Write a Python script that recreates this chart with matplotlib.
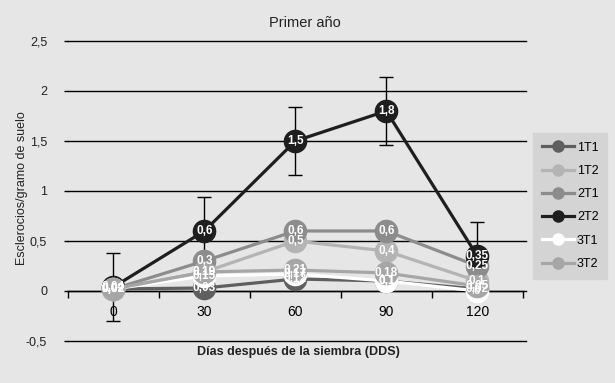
import numpy as np
import matplotlib.pyplot as plt

plt.rcParams['font.family'] = ['Liberation Sans', 'DejaVu Sans']

dias = ['0', '30', '60', '90', '120']
series = ['1T1', '1T2', '2T1', '2T2', '3T1', '3T2']
v_1t1 = [0.02, 0.03, 0.12, 0.1, 0.02]
v_1t2 = [0.02, 0.19, 0.5, 0.4, 0.1]
v_2t1 = [0.02, 0.3, 0.6, 0.6, 0.25]
v_2t2 = [0.04, 0.6, 1.5, 1.8, 0.35]
v_3t1 = [0.02, 0.15, 0.17, 0.1, 0.0]
v_3t2 = [0.02, 0.19, 0.21, 0.18, 0.05]
err_2t2 = [0.34, 0.34, 0.34, 0.34, 0.34]

valores = [v_1t1, v_1t2, v_2t1, v_2t2, v_3t1, v_3t2]
colores = ['#5f5f5f', '#b4b4b4', '#8c8c8c', '#1e1e1e', '#ffffff', '#a6a6a6']

fondo = '#e6e6e6'
fig = plt.figure(figsize=(6.15, 3.83), dpi=100, facecolor=fondo)
ax = fig.add_axes([0.1106, 0.1097, 0.7394, 0.7833])
ax.set_facecolor(fondo)

x = np.arange(len(dias))

# lineas de referencia
for yv in np.arange(-0.5, 2.51, 0.5):
    ax.axhline(yv, color='black', lw=1, xmin=0, xmax=1.008, clip_on=False, zorder=1)

# barras de error (solo 2T2)
ax.errorbar(x, v_2t2, yerr=err_2t2, fmt='none', ecolor='black', elinewidth=1,
            capsize=5, capthick=1, zorder=2)

for i, (nombre, vals, col) in enumerate(zip(series, valores, colores)):
    ax.plot(x, vals, color=col, lw=2.3, marker='o', markersize=16,
            markerfacecolor=col, markeredgecolor=col, label=nombre, zorder=3 + i)

def fmt(v):
    return ('%g' % v).replace('.', ',')

for vals in valores:
    for xi, v in zip(x, vals):
        ax.text(xi, v, fmt(v), ha='center', va='center', color='white',
                fontsize=8.5, fontweight='bold', zorder=20)

ax.set_xlim(-0.5, 4.5)
ax.set_ylim(-0.5, 2.5)
ax.set_yticks(np.arange(-0.5, 2.51, 0.5))
ax.set_yticklabels([fmt(v) for v in np.arange(-0.5, 2.51, 0.5)], fontsize=9, color='#222222')
ax.set_xticks(x)
ax.set_xticklabels(dias, fontsize=9, color='#222222')
ax.set_xticks(np.arange(-0.5, 4.6, 1), minor=True)
ax.tick_params(axis='x', which='major', length=0, pad=10)
ax.tick_params(axis='x', which='minor', length=5, direction='out', width=1)
ax.tick_params(axis='y', length=3, direction='out', width=1, pad=12)

for s in ['top', 'right', 'left']:
    ax.spines[s].set_visible(False)
ax.spines['bottom'].set_position(('data', 0))
ax.spines['bottom'].set_linewidth(1)
ax.spines['bottom'].set_zorder(1)

fig.text(0.036, 0.509, 'Esclerocios/gramo de suelo', rotation=90, ha='center', va='center',
         fontsize=9, color='#222222')
fig.text(0.485, 0.081, 'Días después de la siembra (DDS)', ha='center', va='center',
         fontsize=9, fontweight='bold', color='#222222')
fig.text(0.495, 0.94, 'Primer año', ha='center', va='center', fontsize=10.5, color='#222222')

leg = fig.legend(loc='upper left', bbox_to_anchor=(0.867, 0.653), borderaxespad=0,
                 fontsize=9, markerscale=0.5, handlelength=2.6, labelspacing=0.9,
                 borderpad=0.7, handletextpad=0.2, frameon=True, fancybox=False)
leg.get_frame().set_facecolor('#d4d4d4')
leg.get_frame().set_edgecolor('#d4d4d4')
leg.get_frame().set_alpha(1)

fig.savefig('out.png', dpi=100, facecolor=fondo)
